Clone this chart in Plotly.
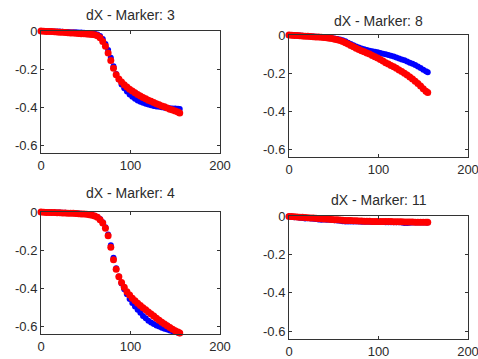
import plotly.graph_objects as go

# ---- data ----
X = [0, 3, 6, 9, 12, 15, 18, 21, 24, 27, 30, 33, 36, 39, 42, 45, 48, 51, 54, 57,
     60, 63, 66, 69, 72, 75, 78, 81, 84, 87, 90, 93, 96, 99, 102, 105, 108, 111,
     114, 117, 120, 123, 126, 129, 132, 135, 138, 141, 144, 147, 150, 153, 155]

m3_blue = [0.000, 0.000, -0.001, -0.001, -0.002, -0.002, -0.003, -0.003, -0.004, -0.005,
           -0.005, -0.006, -0.006, -0.007, -0.008, -0.008, -0.009, -0.010, -0.011, -0.012,
           -0.014, -0.018, -0.026, -0.042, -0.068, -0.100, -0.140, -0.185, -0.225, -0.255,
           -0.280, -0.300, -0.318, -0.333, -0.345, -0.355, -0.364, -0.371, -0.377, -0.382,
           -0.386, -0.390, -0.393, -0.396, -0.398, -0.400, -0.402, -0.404, -0.405, -0.406,
           -0.407, -0.408, -0.409]
m3_red = [0.000, -0.001, -0.002, -0.003, -0.003, -0.004, -0.005, -0.006, -0.007, -0.008,
          -0.009, -0.010, -0.011, -0.012, -0.013, -0.014, -0.015, -0.016, -0.017, -0.018,
          -0.020, -0.025, -0.035, -0.055, -0.080, -0.115, -0.155, -0.195, -0.230, -0.252,
          -0.268, -0.282, -0.294, -0.305, -0.315, -0.324, -0.333, -0.341, -0.349, -0.356,
          -0.363, -0.369, -0.375, -0.381, -0.387, -0.393, -0.398, -0.404, -0.410, -0.415,
          -0.420, -0.425, -0.430]

m8_blue = [0.000, -0.001, -0.001, -0.002, -0.003, -0.004, -0.005, -0.006, -0.007, -0.008,
           -0.009, -0.010, -0.011, -0.012, -0.013, -0.015, -0.017, -0.019, -0.021, -0.024,
           -0.028, -0.033, -0.040, -0.047, -0.054, -0.060, -0.066, -0.071, -0.075, -0.079,
           -0.082, -0.085, -0.088, -0.091, -0.094, -0.098, -0.101, -0.105, -0.109, -0.113,
           -0.118, -0.123, -0.128, -0.133, -0.139, -0.145, -0.151, -0.158, -0.165, -0.173,
           -0.182, -0.190, -0.196]
m8_red = [0.000, -0.001, -0.002, -0.003, -0.004, -0.005, -0.006, -0.007, -0.008, -0.009,
          -0.010, -0.011, -0.012, -0.013, -0.015, -0.017, -0.019, -0.022, -0.025, -0.029,
          -0.034, -0.040, -0.047, -0.055, -0.062, -0.069, -0.076, -0.082, -0.088, -0.094,
          -0.100, -0.107, -0.114, -0.121, -0.129, -0.137, -0.145, -0.152, -0.160, -0.167,
          -0.175, -0.183, -0.192, -0.201, -0.210, -0.220, -0.231, -0.242, -0.254, -0.267,
          -0.282, -0.295, -0.302]

m4_blue = [0.000, 0.000, -0.001, -0.001, -0.002, -0.002, -0.003, -0.003, -0.004, -0.004,
           -0.005, -0.005, -0.006, -0.007, -0.008, -0.009, -0.010, -0.011, -0.013, -0.016,
           -0.020, -0.026, -0.037, -0.054, -0.080, -0.118, -0.175, -0.240, -0.295, -0.338,
           -0.375, -0.405, -0.432, -0.456, -0.477, -0.496, -0.513, -0.528, -0.545, -0.558,
           -0.570, -0.580, -0.588, -0.595, -0.601, -0.607, -0.612, -0.617, -0.622, -0.626,
           -0.630, -0.633, -0.636]
m4_red = [0.000, -0.001, -0.002, -0.002, -0.003, -0.003, -0.004, -0.004, -0.005, -0.005,
          -0.006, -0.006, -0.007, -0.008, -0.009, -0.010, -0.011, -0.012, -0.014, -0.017,
          -0.021, -0.028, -0.040, -0.058, -0.085, -0.125, -0.185, -0.250, -0.300, -0.340,
          -0.370, -0.395, -0.418, -0.436, -0.452, -0.466, -0.479, -0.491, -0.502, -0.513,
          -0.524, -0.535, -0.546, -0.557, -0.568, -0.578, -0.588, -0.597, -0.606, -0.615,
          -0.623, -0.630, -0.635]

m11_blue = [-0.002, -0.004, -0.006, -0.007, -0.009, -0.011, -0.013, -0.012, -0.013, -0.014,
            -0.016, -0.018, -0.019, -0.018, -0.019, -0.020, -0.021, -0.022, -0.023, -0.025,
            -0.027, -0.028, -0.028, -0.028, -0.029, -0.029, -0.029, -0.030, -0.030, -0.030,
            -0.030, -0.031, -0.031, -0.031, -0.031, -0.031, -0.032, -0.032, -0.032, -0.032,
            -0.032, -0.033, -0.034, -0.036, -0.036, -0.035, -0.034, -0.034, -0.034, -0.034,
            -0.034, -0.034, -0.034]
m11_red = [-0.002, -0.003, -0.004, -0.005, -0.006, -0.007, -0.008, -0.009, -0.010, -0.011,
           -0.012, -0.013, -0.014, -0.015, -0.016, -0.017, -0.018, -0.019, -0.020, -0.021,
           -0.022, -0.023, -0.024, -0.024, -0.025, -0.025, -0.026, -0.026, -0.027, -0.027,
           -0.027, -0.028, -0.028, -0.028, -0.028, -0.029, -0.029, -0.029, -0.029, -0.030,
           -0.030, -0.030, -0.030, -0.031, -0.031, -0.031, -0.031, -0.032, -0.032, -0.032,
           -0.032, -0.033, -0.033]

titles = ["dX - Marker: 3", "dX - Marker: 8", "dX - Marker: 4", "dX - Marker: 11"]
x_ticks = [0, 100, 200]
x_tick_labels = ["0", "100", "200"]
y_ticks = [0, -0.2, -0.4, -0.6]
y_tick_labels = ["0", "-0.2", "-0.4", "-0.6"]

panels = [(m3_blue, m3_red), (m8_blue, m8_red), (m4_blue, m4_red), (m11_blue, m11_red)]

# ---- layout (pixel boxes in window coords) ----
W, H = 478, 359
boxes = [  # left, right, top, bottom in px
    (41, 220, 31, 153),
    (289, 468, 35, 157),
    (41, 220, 212, 334),
    (289, 468, 216, 339),
]
title_y = [15, 21, 193, 200]

fig = go.Figure()
font_family = "Liberation Sans, Arial, sans-serif"
layout = dict(width=W, height=H, margin=dict(l=0, r=0, t=0, b=0, pad=0),
              paper_bgcolor="white", plot_bgcolor="white", showlegend=False,
              font=dict(family=font_family, size=13, color="#2b2b2b"))
annotations = []
for i, ((blue, red), (l, r, t, b)) in enumerate(zip(panels, boxes)):
    n = i + 1
    xa = "x" if n == 1 else f"x{n}"
    ya = "y" if n == 1 else f"y{n}"
    fig.add_trace(go.Scatter(x=X, y=blue, mode="markers", xaxis=xa, yaxis=ya,
                             cliponaxis=False,
                             marker=dict(color="#0000FF", size=6, symbol="circle",
                                         line=dict(width=0))))
    fig.add_trace(go.Scatter(x=X, y=red, mode="markers", xaxis=xa, yaxis=ya,
                             cliponaxis=False,
                             marker=dict(color="#FF0000", size=7, symbol="circle",
                                         line=dict(width=0))))
    common = dict(showline=True, linecolor="#333333", linewidth=1, mirror="ticks",
                  ticks="inside", ticklen=3, tickcolor="#333333", showgrid=False,
                  zeroline=False, automargin=False, ticklabeloverflow="allow",
                  tickfont=dict(size=13, color="#2b2b2b"))
    layout[f"xaxis{'' if n == 1 else n}"] = dict(
        domain=[l / W, r / W], anchor=ya, range=[0, 200],
        tickvals=x_ticks, ticktext=x_tick_labels, **common)
    layout[f"yaxis{'' if n == 1 else n}"] = dict(
        domain=[1 - b / H, 1 - t / H], anchor=xa, range=[-0.64, 0],
        tickvals=y_ticks, ticktext=y_tick_labels, **common)
    annotations.append(dict(text=titles[i], x=(l + r) / 2 / W,
                            y=1 - title_y[i] / H,
                            xref="paper", yref="paper", xanchor="center",
                            yanchor="middle", showarrow=False,
                            font=dict(size=14, color="#2b2b2b")))
layout["annotations"] = annotations
fig.update_layout(**layout)
fig.write_html(
    "out.html",
    config={"displayModeBar": False},
    post_script="document.body.style.margin='0';document.body.style.overflow='hidden';",
)
